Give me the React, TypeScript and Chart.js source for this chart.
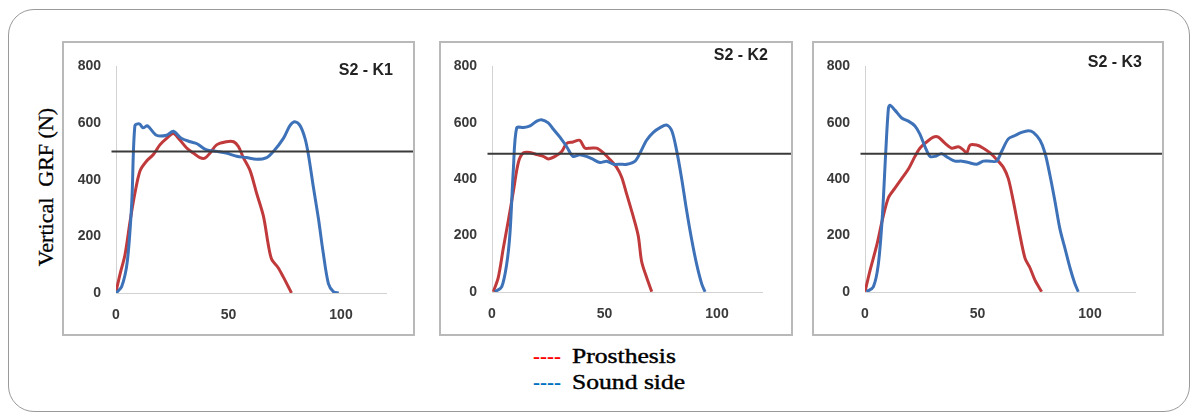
import React, { useEffect, useRef } from "react";
import { Chart, registerables } from "chart.js";

Chart.register(...registerables);

// ---------- DATA ----------
const panelTitles = ["S2 - K1", "S2 - K2", "S2 - K3"];
const bodyWeight = [500, 490, 490];
const xTickValues = [0, 50, 100];
const yTickValues = [0, 200, 400, 600, 800];
const legendLabels = ["Prosthesis", "Sound side"];

// K1
const k1ProsX = [0, 1.8, 4, 6.2, 8.4, 10.7, 13.6, 16.6, 19.5, 22.5, 25.5, 28.4, 31.4, 34.4, 37.3, 39.5, 41.8, 44.7, 49, 52.3, 54.4, 56.6, 59.6, 62.5, 65.5, 67.7, 69.2, 72, 74.4, 76.6, 78];
const k1ProsY = [4, 67, 135, 250, 352, 432, 466, 489, 523, 546, 563, 540, 512, 494, 478, 476, 494, 523, 534, 534, 517, 478, 432, 352, 272, 170, 119, 90, 56, 22, 0];
const k1SoundX = [0, 2.5, 5, 7, 8.4, 10.4, 12, 14, 18, 22.5, 25.5, 29, 33, 36, 40, 44.8, 49, 53.6, 58, 62.5, 67, 70, 74.4, 77.3, 79.5, 81.8, 84, 85.5, 87.7, 90, 92, 94.4, 96.6, 99];
const k1SoundY = [0, 22, 110, 318, 591, 597, 583, 590, 557, 557, 571, 546, 534, 527, 506, 500, 494, 483, 478, 472, 478, 500, 546, 591, 605, 591, 546, 489, 375, 261, 147, 33, 5, 0];

// K2
const k2ProsX = [0.6, 2.8, 5, 7.3, 9.5, 11.7, 13.9, 16.9, 19.9, 22.8, 25, 28, 31, 33.2, 36, 39, 41.3, 43.6, 46.5, 49.5, 52.4, 55.4, 57.6, 59.9, 62.8, 65, 66.5, 68.7, 71];
const k2ProsY = [1, 52, 154, 255, 357, 459, 493, 495, 487, 481, 472, 481, 498, 527, 532, 538, 510, 510, 510, 493, 470, 442, 408, 346, 267, 199, 108, 52, 1];
const k2SoundX = [1.3, 4.3, 6.5, 8, 9.5, 11, 14, 16.9, 19.9, 22, 25, 27.3, 30.2, 33.2, 36, 39, 42, 45, 48, 51, 54, 57, 60, 63.6, 65.8, 68.7, 71.7, 74.7, 77.6, 79.9, 82, 84.3, 86.5, 88.7, 91, 93.2, 94.7];
const k2SoundY = [1, 18, 97, 210, 436, 583, 583, 589, 606, 611, 600, 577, 549, 515, 481, 487, 481, 470, 459, 464, 453, 453, 453, 464, 493, 538, 566, 583, 592, 572, 504, 402, 289, 188, 97, 29, 1];

// K3
const k3ProsX = [0, 2.2, 5.2, 7.7, 10.4, 13.3, 16.3, 19.3, 22.2, 24.4, 27.4, 30.4, 32.6, 35.6, 38.5, 41.5, 43.7, 45.2, 46.7, 49.6, 52.6, 55.6, 58.5, 61.5, 63.7, 65.9, 68.1, 71.1, 73.3, 75.6, 78.5];
const k3ProsY = [1, 75, 165, 255, 334, 368, 402, 436, 481, 510, 532, 549, 549, 527, 510, 515, 504, 493, 521, 521, 510, 493, 470, 442, 402, 323, 233, 120, 86, 41, 1];
const k3SoundX = [0.7, 3.7, 5.9, 7.7, 9.2, 10.4, 11.1, 13.3, 16.3, 19.3, 22.2, 24.4, 26.7, 28.9, 31.1, 34, 37, 40, 43, 46, 49.6, 52.6, 55.6, 58.5, 60.7, 63.7, 66.7, 69.6, 72.6, 74.8, 77.8, 80, 82.2, 84.4, 86.7, 88.9, 91.1, 93.3, 94.8];
const k3SoundY = [1, 18, 97, 267, 493, 651, 662, 645, 617, 606, 589, 560, 515, 481, 481, 490, 476, 464, 464, 459, 453, 464, 464, 464, 498, 543, 555, 566, 572, 566, 538, 493, 414, 323, 221, 154, 86, 29, 1];

const prosX = [k1ProsX, k2ProsX, k3ProsX];
const prosY = [k1ProsY, k2ProsY, k3ProsY];
const soundX = [k1SoundX, k2SoundX, k3SoundX];
const soundY = [k1SoundY, k2SoundY, k3SoundY];

// ---------- STYLE / LAYOUT ----------
const RED = "#c03a3c";
const BLUE = "#3d71b8";
const TICK_FONT = { family: "'Liberation Sans', Arial, sans-serif", size: 14, weight: "bold" as const };
const TICK_COLOR = "#3a3a3a";

const panels = [
  { left: 62, top: 41, width: 353, height: 295, yW: 52, padTop: 16, xH: 41, padRight: 27, titleRight: 393, titleY: 70 },
  { left: 439, top: 41, width: 354, height: 295, yW: 51, padTop: 13, xH: 42, padRight: 29, titleRight: 768, titleY: 55 },
  { left: 812, top: 41, width: 352, height: 295, yW: 51, padTop: 13, xH: 42, padRight: 27, titleRight: 1142, titleY: 62 },
];

const BORDER = 2;

function toPoints(xs: number[], ys: number[]) {
  return xs.map((x, i) => ({ x, y: ys[i] }));
}

function Panel({ idx }: { idx: number }) {
  const ref = useRef<HTMLCanvasElement | null>(null);
  const p = panels[idx];
  const cw = p.width - 2 * BORDER;
  const ch = p.height - 2 * BORDER;

  useEffect(() => {
    if (!ref.current) return;
    const chart = new Chart(ref.current, {
      type: "line",
      data: {
        datasets: [
          {
            data: [
              { x: -2, y: bodyWeight[idx] },
              { x: 140, y: bodyWeight[idx] },
            ],
            borderColor: "#3a3a3a",
            borderWidth: 2,
            pointRadius: 0,
            tension: 0,
            clip: false as any,
          },
          {
            data: toPoints(soundX[idx], soundY[idx]),
            borderColor: BLUE,
            borderWidth: 3,
            pointRadius: 0,
            tension: 0.3,
          },
          {
            data: toPoints(prosX[idx], prosY[idx]),
            borderColor: RED,
            borderWidth: 3,
            pointRadius: 0,
            tension: 0.3,
          },
        ],
      },
      options: {
        responsive: false,
        animation: false,
        layout: { padding: { top: p.padTop, right: p.padRight, left: 0, bottom: 0 } },
        plugins: { legend: { display: false }, tooltip: { enabled: false }, title: { display: false } },
        scales: {
          x: {
            type: "linear",
            min: 0,
            max: 120,
            afterBuildTicks: (s: any) => {
              s.ticks = xTickValues.map((v) => ({ value: v }));
            },
            ticks: { padding: 14, font: TICK_FONT, color: TICK_COLOR, maxRotation: 0, autoSkip: false },
            grid: { display: false, drawTicks: false },
            border: { display: true, color: "#d2d2d2", width: 1 },
            afterFit: (s: any) => {
              s.height = p.xH;
            },
          },
          y: {
            type: "linear",
            min: 0,
            max: 800,
            afterBuildTicks: (s: any) => {
              s.ticks = yTickValues.map((v) => ({ value: v }));
            },
            ticks: { padding: 15, font: TICK_FONT, color: TICK_COLOR, autoSkip: false },
            grid: { display: false, drawTicks: false },
            border: { display: true, color: "#d2d2d2", width: 1 },
            afterFit: (s: any) => {
              s.width = p.yW;
            },
          },
        },
      },
    });
    return () => chart.destroy();
  }, [idx]);

  return (
    <>
      <div
        style={{
          position: "absolute",
          left: p.left,
          top: p.top,
          width: p.width,
          height: p.height,
          boxSizing: "border-box",
          border: `${BORDER}px solid #b9b9b9`,
          background: "#fff",
        }}
      >
        <canvas ref={ref} width={cw} height={ch} style={{ display: "block", width: cw, height: ch }} />
      </div>
      <div
        style={{
          position: "absolute",
          left: p.titleRight - 120,
          width: 120,
          top: p.titleY - 10,
          height: 20,
          lineHeight: "20px",
          textAlign: "right",
          fontFamily: "'Liberation Sans', Arial, sans-serif",
          fontWeight: "bold",
          fontSize: 16,
          color: "#222",
          whiteSpace: "nowrap",
        }}
      >
        {panelTitles[idx]}
      </div>
    </>
  );
}

export default function App() {
  const serif = "'Liberation Serif', 'Times New Roman', serif";
  return (
    <div style={{ position: "absolute", left: 0, top: 0, width: 1193, height: 414, background: "#fff", overflow: "hidden" }}>
      <div
        style={{
          position: "absolute",
          left: 8,
          top: 9,
          width: 1182,
          height: 403,
          boxSizing: "border-box",
          border: "1px solid #9a9a9a",
          borderRadius: 26,
        }}
      />
      {panels.map((_, i) => (
        <Panel key={i} idx={i} />
      ))}
      <div
        style={{
          position: "absolute",
          left: 46 - 100,
          top: 187 - 14,
          width: 200,
          height: 28,
          lineHeight: "28px",
          textAlign: "center",
          transform: "rotate(-90deg)",
          fontFamily: serif,
          fontSize: 22,
          color: "#000",
          whiteSpace: "pre",
          WebkitTextStroke: "0.3px #000",
        }}
      >
        {"Vertical  GRF (N)"}
      </div>
      {legendLabels.map((lab, i) => (
        <React.Fragment key={lab}>
          <div
            style={{
              position: "absolute",
              left: 533,
              top: 343 + i * 26,
              height: 26,
              lineHeight: "26px",
              fontFamily: serif,
              fontSize: 21,
              fontWeight: "bold",
              color: i === 0 ? "#ff0000" : "#0070c0",
              whiteSpace: "pre",
            }}
          >
            ----
          </div>
          <div
            style={{
              position: "absolute",
              left: 572,
              top: 343 + i * 26,
              height: 26,
              lineHeight: "26px",
              fontFamily: serif,
              fontSize: 21,
              color: "#000",
              whiteSpace: "pre",
              transform: "scaleX(1.22)",
              transformOrigin: "left center",
              WebkitTextStroke: "0.4px #000",
            }}
          >
            {lab}
          </div>
        </React.Fragment>
      ))}
    </div>
  );
}
